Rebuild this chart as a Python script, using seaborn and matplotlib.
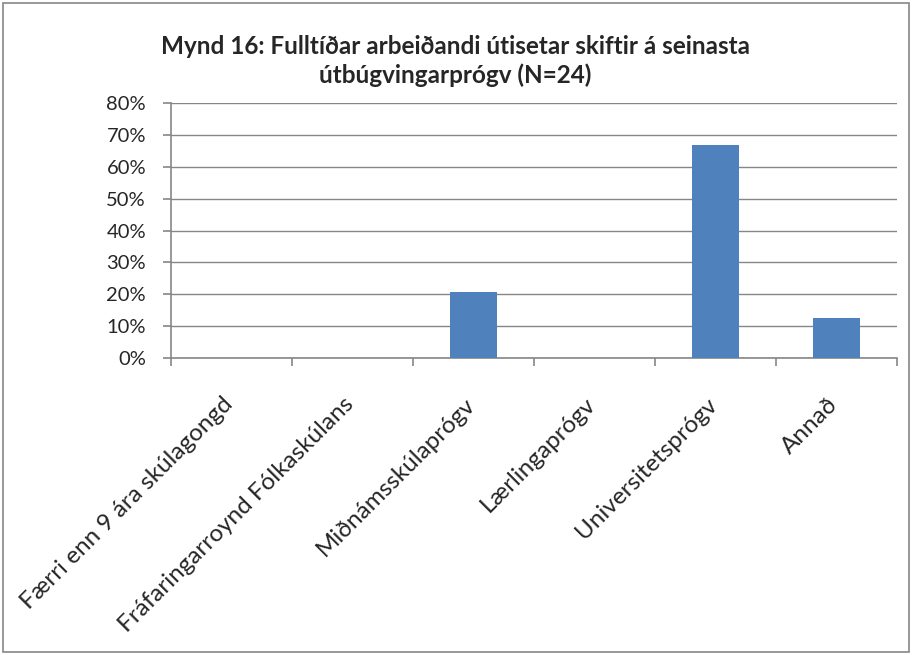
import matplotlib.pyplot as plt
import matplotlib.transforms as mtransforms
import numpy as np
import pandas as pd
import seaborn as sns
from matplotlib.patches import Rectangle
from matplotlib.ticker import FixedLocator, PercentFormatter

categories = [
    "Færri enn 9 ára skúlagongd",
    "Fráfaringarroynd Fólkaskúlans",
    "Miðnámsskúlaprógv",
    "Lærlingaprógv",
    "Universitetsprógv",
    "Annað",
]
shares = [0.0, 0.0, 0.208, 0.0, 0.667, 0.125]
title = "Mynd 16: Fulltíðar arbeiðandi útisetar skiftir á seinasta\nútbúgvingarprógv (N=24)"

sns.set_style("white")
plt.rcParams["font.family"] = ["Lato", "DejaVu Sans"]

df = pd.DataFrame({"category": categories, "share": shares})

fig = plt.figure(figsize=(9.13, 6.55), dpi=100)
fig.patches.append(Rectangle((3 / 913, 3 / 655), 906 / 913, 649 / 655, transform=fig.transFigure,
                             fill=False, edgecolor="#868686", lw=1.2))
ax = fig.add_axes([171 / 913, 1 - 358 / 655, 726 / 913, 255 / 655])

sns.barplot(data=df, x="category", y="share", color="#4F81BD", saturation=1, width=0.39,
            edgecolor="none", linewidth=0, ax=ax, zorder=3)

ax.set_xlim(-0.5, len(categories) - 0.5)
ax.set_ylim(0, 0.8)
ax.set_yticks(np.arange(0, 0.81, 0.1))
ax.yaxis.set_major_formatter(PercentFormatter(1.0, decimals=0))
ax.grid(axis="y", color="#868686", lw=1, zorder=0)
ax.set_axisbelow(True)

for side in ["top", "right"]:
    ax.spines[side].set_visible(False)
for side in ["left", "bottom"]:
    ax.spines[side].set_color("#868686")
    ax.spines[side].set_linewidth(1.2)

ax.xaxis.set_minor_locator(FixedLocator(np.arange(-0.5, len(categories), 1.0)))
ax.tick_params(axis="x", which="major", bottom=True, length=0, pad=31)
ax.tick_params(axis="x", which="minor", bottom=True, length=6, color="#868686", width=1.2)
ax.tick_params(axis="y", left=True, length=6, color="#868686", width=1.2, labelsize=14.5, pad=12)
ax.set_xticks(range(len(categories)))
ax.set_xticklabels(categories, rotation=45, ha="right", va="center", rotation_mode="anchor", fontsize=17.5)
shift = mtransforms.ScaledTranslation(-2 / 100, 0, fig.dpi_scale_trans)
for lbl in ax.get_xticklabels():
    lbl.set_transform(lbl.get_transform() + shift)
ax.set_xlabel("")
ax.set_ylabel("")

fig.text(455 / 913, 1 - 61 / 655, title, ha="center", va="center", fontsize=17.5, fontweight="bold",
         linespacing=1.3)

fig.savefig("out.png", dpi=100)
